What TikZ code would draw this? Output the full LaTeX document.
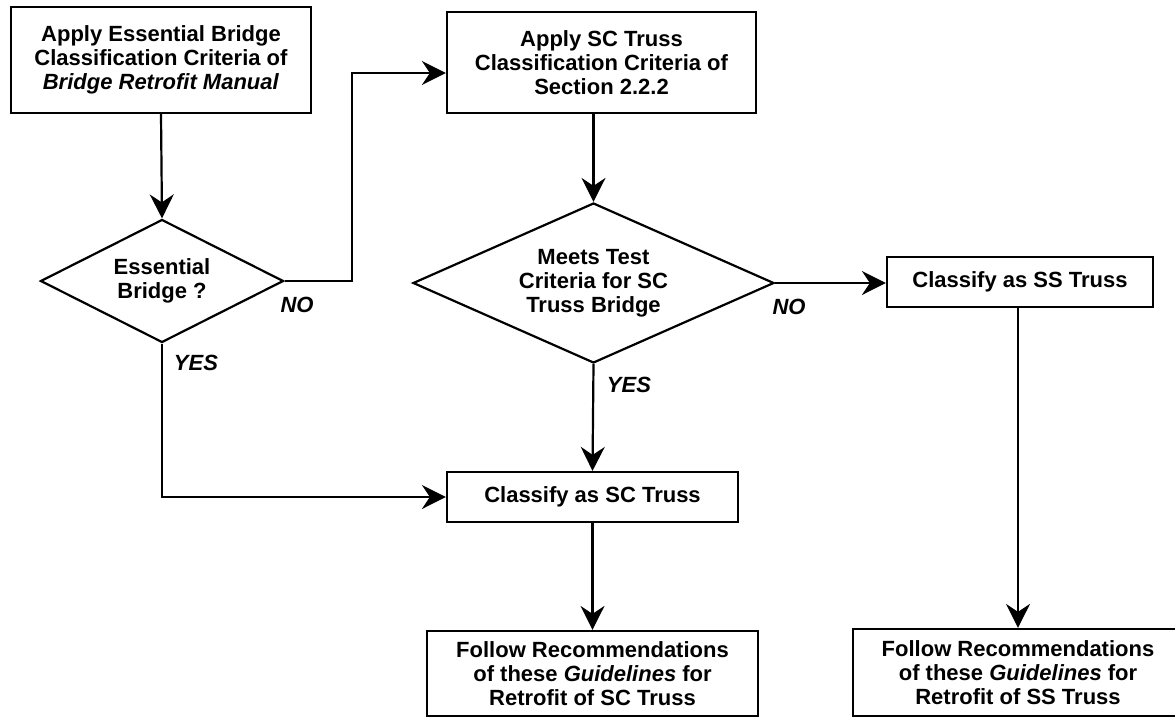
\documentclass[tikz,border=0pt]{standalone}
\usepackage{fontspec}
\setmainfont{Liberation Sans}
\usetikzlibrary{shapes.geometric,arrows.meta,calc}
\begin{document}
\begin{tikzpicture}[x=1pt,y=-1pt,
  every node/.style={font=\fontsize{22}{24}\selectfont\bfseries, align=center},
  boxnode/.style={draw, line width=2.2pt, inner sep=0pt, rectangle},
  decision/.style={draw, line width=2.2pt, inner sep=0pt, diamond, aspect=2},
  lab/.style={font=\fontsize{22}{24}\selectfont\bfseries\itshape, inner sep=0pt},
  arr/.style={line width=2.2pt, -{Stealth[length=24pt,width=24pt,inset=8pt]}}
]
\useasboundingbox (0,0) rectangle (1175,717);
\node[boxnode, minimum width=300pt, minimum height=106pt] (b1) at (161,60)
  {Apply Essential Bridge\\Classification Criteria of\\\textit{Bridge Retrofit Manual}};
\node[boxnode, minimum width=309pt, minimum height=101pt] (b2) at (601.5,62.5)
  {Apply SC Truss\\Classification Criteria of\\Section 2.2.2};
\node[decision, minimum width=243pt, minimum height=123pt] (d1) at (162,281)
  {Essential\\Bridge ?};
\node[decision, minimum width=361pt, minimum height=160pt] (d2) at (593.5,283)
  {Meets Test\\Criteria for SC\\Truss Bridge};
\node[boxnode, minimum width=266pt, minimum height=50pt] (b3) at (1020,282)
  {Classify as SS Truss};
\node[boxnode, minimum width=291pt, minimum height=50pt] (bsc) at (592.5,497)
  {Classify as SC Truss};
\node[boxnode, minimum width=331pt, minimum height=85pt] (fsc) at (592.5,673.5)
  {Follow Recommendations\\of these \textit{Guidelines} for\\Retrofit of SC Truss};
\node[boxnode, minimum width=330pt, minimum height=87pt] (fss) at (1018,672.5)
  {Follow Recommendations\\of these \textit{Guidelines} for\\Retrofit of SS Truss};

\node[lab] (no1) at (297,305) {NO};
\node[lab] (yes1) at (196,363) {YES};
\node[lab] (no2) at (789,307) {NO};
\node[lab] (yes2) at (629,385) {YES};

\coordinate (b2in) at ([yshift=-10.5pt]b2.west);
\coordinate (bend1) at (352,281);

\draw[arr] (b1.south) -- (d1.north);
\draw[arr] (d1.east) -- (bend1) |- (b2in);
\draw[arr] (d2.north |- b2.south) -- (d2.north);
\draw[arr] (d2.east) -- (d2.east -| b3.west);
\draw[arr] (d2.south) -- (bsc.north);
\draw[arr] (d1.south) |- (bsc.west);
\draw[arr] (bsc.south) -- (fsc.north);
\draw[arr] (fss.north |- b3.south) -- (fss.north);
\end{tikzpicture}
\end{document}
